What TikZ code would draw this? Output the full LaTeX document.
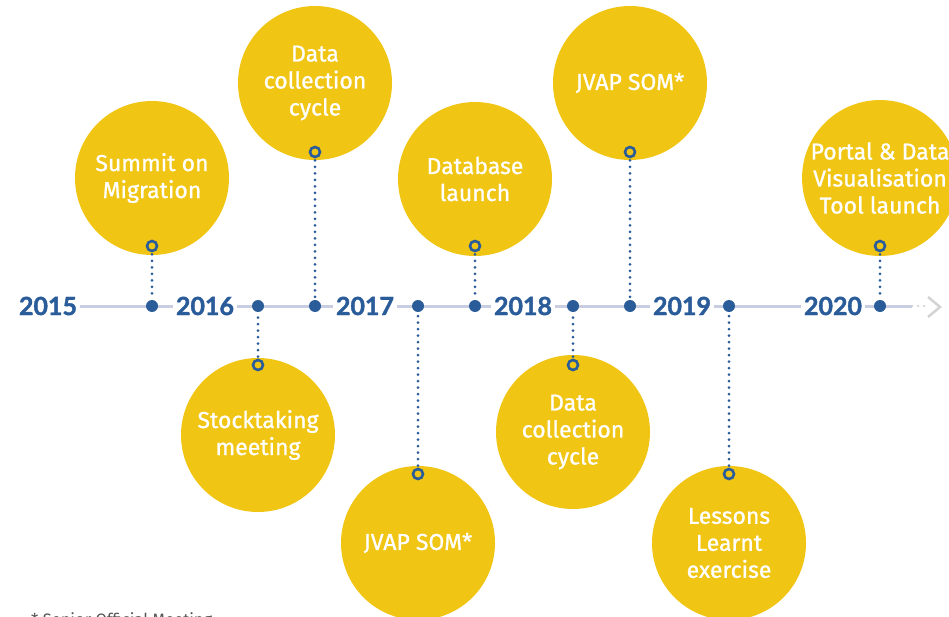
\documentclass[tikz,border=0pt]{standalone}
\usepackage{fontspec}
\setmainfont{Fira Sans}
\newfontfamily\bubblefont[FakeBold=1]{Fira Sans}
\newfontfamily\yearfont[BoldFeatures={FakeBold=1.6}]{Lato}
\definecolor{gold}{HTML}{F0C514}
\definecolor{navy}{HTML}{2A5C9A}
\definecolor{tline}{HTML}{C9CDE2}
\definecolor{lgray}{HTML}{D3D3D3}
\definecolor{ftgray}{HTML}{555555}
\tikzset{
  bubble/.style={circle, fill=gold, minimum size=154pt, inner sep=0pt, align=center,
    text=white, font=\bubblefont\fontsize{23}{27}\selectfont},
  ring/.style={circle, draw=navy, line width=2.6pt, fill=gold, minimum size=10pt, inner sep=0pt},
  tdot/.style={circle, fill=navy, minimum size=12pt, inner sep=0pt},
  dotline/.style={navy, line width=3pt, line cap=round, dash pattern=on 0pt off 6.5pt, shorten <=2pt, shorten >=2pt},
  year/.style={text=navy, fill=white, inner xsep=3pt, inner ysep=1pt,
    font=\yearfont\bfseries\fontsize{25}{25}\selectfont},
}
\begin{document}
\begin{tikzpicture}[x=1pt,y=-1pt]
\useasboundingbox (0,0) rectangle (949,617);
% timeline
\coordinate (lstart) at (77,306);
\coordinate (lend) at (912,306);
\coordinate (gend) at (926,306);
\coordinate (cht) at (928,297);
\coordinate (chm) at (940,307);
\coordinate (chb) at (928,317);
\draw[tline, line width=3pt] (lstart) -- (lend);
\draw[lgray, line width=2.5pt, line cap=round, dash pattern=on 0pt off 6pt] (lend) -- (gend);
\draw[lgray, line width=2.5pt] (cht) -- (chm) -- (chb);
% years
\node[year] (y2015) at (48,306) {2015};
\node[year] (y2016) at (205,306) {2016};
\node[year] (y2017) at (365,306) {2017};
\node[year] (y2018) at (523,306) {2018};
\node[year] (y2019) at (682,306) {2019};
\node[year] (y2020) at (833,306) {2020};
% bubbles
\node[bubble] (c1) at (152,178) {Summit on\\Migration};
\node[bubble] (c2) at (258,435) {Stocktaking\\meeting};
\node[bubble] (c3) at (315,83) {Data\\collection\\cycle};
\node[bubble] (c4) at (418,543) {JVAP SOM*};
\node[bubble] (c5) at (475,179) {Database\\launch};
\node[bubble] (c6) at (573,432) {Data\\collection\\cycle};
\node[bubble] (c7) at (630,83) {JVAP SOM*};
\node[bubble] (c8) at (729,543) {Lessons\\Learnt\\exercise};
\node[bubble] (c9) at (880,178) {Portal \& Data\\Visualisation\\Tool launch};
% rings
\node[ring] (r1) at (152,246) {};
\node[ring] (r2) at (258,365) {};
\node[ring] (r3) at (315,152) {};
\node[ring] (r4) at (418,474) {};
\node[ring] (r5) at (475,246) {};
\node[ring] (r6) at (573,365) {};
\node[ring] (r7) at (630,152) {};
\node[ring] (r8) at (729,474) {};
\node[ring] (r9) at (880,246) {};
% timeline dots
\node[tdot] (d1) at (152,306) {};
\node[tdot] (d2) at (258,306) {};
\node[tdot] (d3) at (315,306) {};
\node[tdot] (d4) at (418,306) {};
\node[tdot] (d5) at (475,306) {};
\node[tdot] (d6) at (573,306) {};
\node[tdot] (d7) at (630,306) {};
\node[tdot] (d8) at (729,306) {};
\node[tdot] (d9) at (880,306) {};
% connectors
\foreach \i in {1,...,9} { \draw[dotline] (r\i) -- (d\i); }
% footnote (cut by the lower edge, as in the reference)
\node[anchor=base west, text=ftgray, font=\fontsize{16.5}{16.5}\selectfont, inner sep=0pt] (fn) at (31,625) {* Senior Official Meeting};
\end{tikzpicture}
\end{document}
